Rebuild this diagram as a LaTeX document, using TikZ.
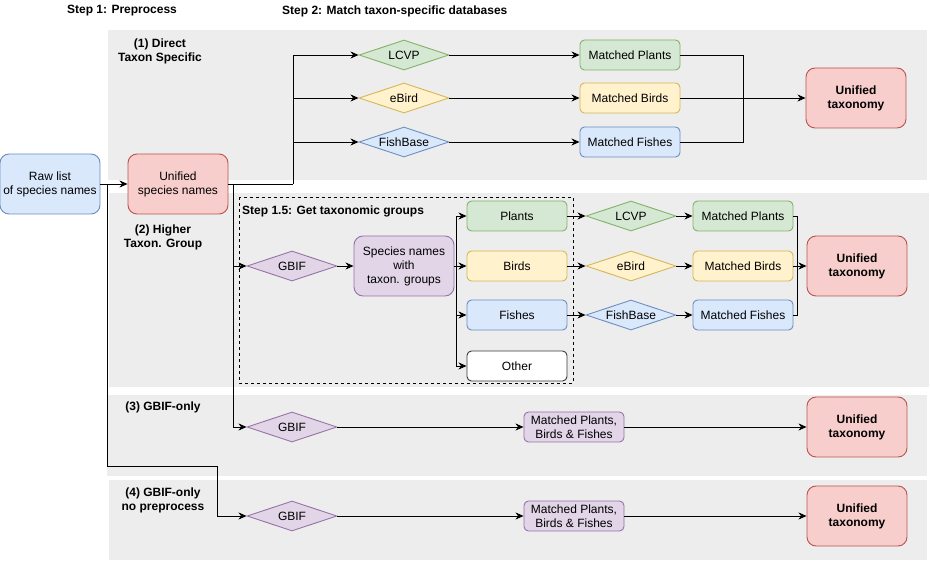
\documentclass[tikz,border=0pt]{standalone}
\usepackage{fontspec}
\setmainfont{Liberation Sans}
\usetikzlibrary{shapes.geometric,arrows.meta}
\definecolor{bandgray}{HTML}{EDEDED}
\definecolor{gfill}{HTML}{D5E8D4}\definecolor{gline}{HTML}{82B366}
\definecolor{yfill}{HTML}{FFF2CC}\definecolor{yline}{HTML}{D6B656}
\definecolor{bfill}{HTML}{DAE8FC}\definecolor{bline}{HTML}{6C8EBF}
\definecolor{rfill}{HTML}{F8CECC}\definecolor{rline}{HTML}{B85450}
\definecolor{pfill}{HTML}{E1D5E7}\definecolor{pline}{HTML}{9673A6}
\definecolor{oline}{HTML}{36393D}
\newcommand{\fs}{\fontsize{12}{14}\selectfont}
\tikzset{
  band/.style={fill=bandgray,draw=none},
  box/.style={draw,rounded corners=4.5pt,minimum width=100pt,minimum height=30pt,inner sep=0pt,align=center,font=\fs,line width=0.9pt},
  bigbox/.style={box,minimum height=60pt,rounded corners=9pt},
  utax/.style={bigbox,fill=rfill,draw=rline,font=\fs\bfseries},
  db/.style={diamond,draw,aspect=3,minimum width=90pt,minimum height=30pt,inner sep=0pt,font=\fs,line width=0.9pt},
  green/.style={fill=gfill,draw=gline},
  yellow/.style={fill=yfill,draw=yline},
  blue/.style={fill=bfill,draw=bline},
  red/.style={fill=rfill,draw=rline},
  purple/.style={fill=pfill,draw=pline},
  lbl/.style={font=\fs\bfseries,align=center,inner sep=0pt},
  conn/.style={line width=0.9pt,black},
  arr/.style={conn,-{Stealth[length=8pt,width=7pt,inset=2.5pt]}},
}
\begin{document}
\begin{tikzpicture}[x=1pt,y=-1pt]
\useasboundingbox (0,0) rectangle (930,561);
% bands
\fill[band] (108,30) rectangle (927,180);
\fill[band] (109,193) rectangle (929,387);
\fill[band] (107,395) rectangle (927,476);
\fill[band] (109,480) rectangle (927,560);
% labels
\node[lbl] (s1) at (122,11) {Step 1: Preprocess};
\node[lbl,anchor=west] (s2) at (282,11) {Step 2: Match taxon-specific databases};
\node[lbl] (l1) at (160,51) {(1) Direct\\Taxon Specific};
\node[lbl] (l2) at (163,237) {(2) Higher\\Taxon. Group};
\node[lbl] (l3) at (163,407) {(3) GBIF-only};
\node[lbl] (l4) at (163,500) {(4) GBIF-only\\no preprocess};
% step 1.5 box
\draw[dashed,line width=0.8pt] (239,197) rectangle (573,383);
\node[lbl,anchor=west] (s15) at (242,211) {Step 1.5: Get taxonomic groups};
% step 1
\node[bigbox,blue] (raw) at (50,184) {Raw list\\of species names};
\node[bigbox,red] (uni) at (178,184) {Unified\\species names};
% band 1
\node[db,green] (lcvp1) at (404,55) {LCVP};
\node[db,yellow] (ebird1) at (404,98) {eBird};
\node[db,blue] (fish1) at (404,142) {FishBase};
\node[box,green] (mp1) at (630,55) {Matched Plants};
\node[box,yellow] (mb1) at (630,98) {Matched Birds};
\node[box,blue] (mf1) at (630,142) {Matched Fishes};
\node[utax] (ut1) at (856,98) {Unified\\taxonomy};
% band 2
\node[db,purple] (gbif2) at (292,266) {GBIF};
\node[bigbox,purple] (sn) at (404,266) {Species names\\with\\taxon. groups};
\node[box,green] (pl) at (517,216) {Plants};
\node[box,yellow] (bi) at (517,266) {Birds};
\node[box,blue] (fi) at (517,315) {Fishes};
\node[box,draw=oline,fill=white] (ot) at (517,366) {Other};
\node[db,green] (lcvp2) at (631,216) {LCVP};
\node[db,yellow] (ebird2) at (631,266) {eBird};
\node[db,blue] (fish2) at (631,315) {FishBase};
\node[box,green] (mp2) at (743,216) {Matched Plants};
\node[box,yellow] (mb2) at (743,266) {Matched Birds};
\node[box,blue] (mf2) at (743,315) {Matched Fishes};
\node[utax] (ut2) at (857,266) {Unified\\taxonomy};
% band 3
\node[db,purple] (gbif3) at (292,427) {GBIF};
\node[box,purple] (mpbf3) at (574,427) {Matched Plants,\\Birds \& Fishes};
\node[utax] (ut3) at (857,427) {Unified\\taxonomy};
% band 4
\node[db,purple] (gbif4) at (292,516) {GBIF};
\node[box,purple] (mpbf4) at (574,516) {Matched Plants,\\Birds \& Fishes};
\node[utax] (ut4) at (857,516) {Unified\\taxonomy};
% junctions
\coordinate (j0) at (107,184);
\coordinate (j1) at (293,184);
\coordinate (j2) at (233,184);
\coordinate (m1) at (743,98);
\coordinate (b2) at (456,266);
\coordinate (m2) at (797,266);
% connectors step 1
\draw[arr] (raw.east) -- (uni.west);
\draw[arr] (j0) |- (217,466) |- (gbif4.west);
\draw[conn] (uni.east) -- (j1);
\draw[arr] (j2) |- (gbif2.west);
\draw[arr] (j2) |- (gbif3.west);
% band 1
\draw[arr] (j1) |- (lcvp1.west);
\draw[arr] (j1) |- (ebird1.west);
\draw[arr] (j1) |- (fish1.west);
\draw[arr] (lcvp1) -- (mp1);
\draw[arr] (ebird1) -- (mb1);
\draw[arr] (fish1) -- (mf1);
\draw[conn] (mp1.east) -| (m1);
\draw[conn] (mf1.east) -| (m1);
\draw[arr] (mb1.east) -- (ut1.west);
% band 2
\draw[arr] (gbif2) -- (sn);
\draw[conn] (sn.east) -- (b2);
\draw[arr] (b2) |- (pl.west);
\draw[arr] (b2) |- (bi.west);
\draw[arr] (b2) |- (fi.west);
\draw[arr] (b2) |- (ot.west);
\draw[arr] (pl) -- (lcvp2);
\draw[arr] (bi) -- (ebird2);
\draw[arr] (fi) -- (fish2);
\draw[arr] (lcvp2) -- (mp2);
\draw[arr] (ebird2) -- (mb2);
\draw[arr] (fish2) -- (mf2);
\draw[conn] (mp2.east) -| (m2);
\draw[conn] (mf2.east) -| (m2);
\draw[arr] (mb2.east) -- (ut2.west);
% band 3 and 4
\draw[arr] (gbif3) -- (mpbf3);
\draw[arr] (mpbf3) -- (ut3);
\draw[arr] (gbif4) -- (mpbf4);
\draw[arr] (mpbf4) -- (ut4);
\end{tikzpicture}
\end{document}
